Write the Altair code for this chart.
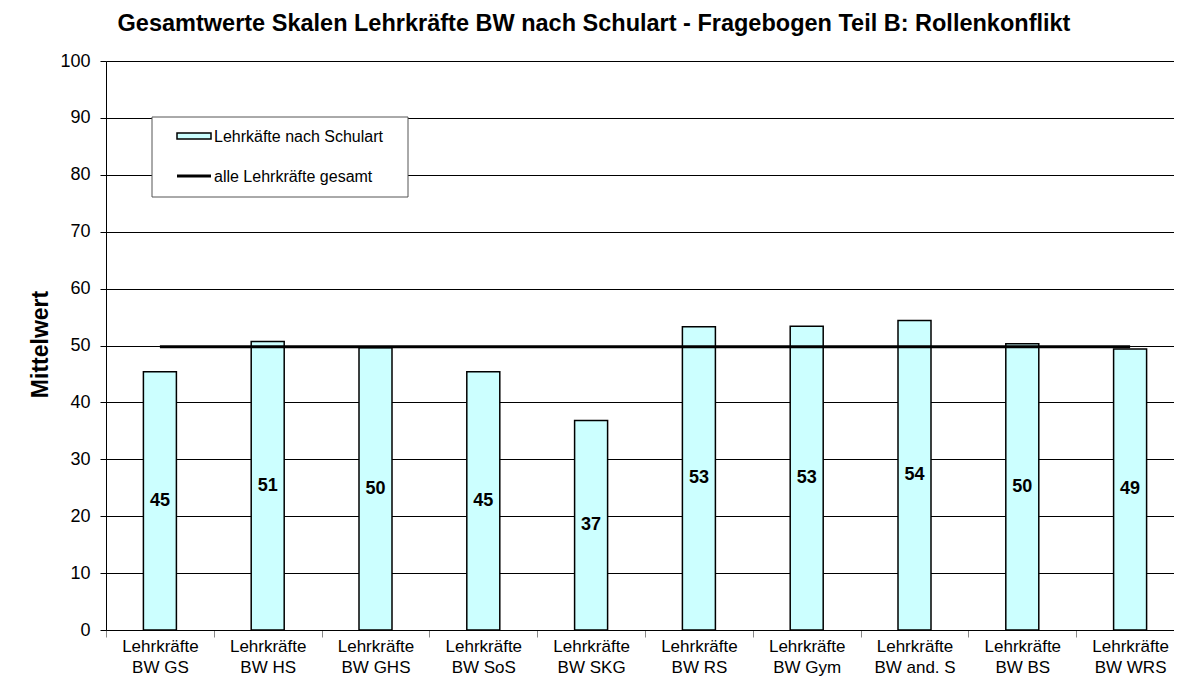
import altair as alt
import pandas as pd

categories = [
    "Lehrkräfte\nBW GS", "Lehrkräfte\nBW HS", "Lehrkräfte\nBW GHS",
    "Lehrkräfte\nBW SoS", "Lehrkräfte\nBW SKG", "Lehrkräfte\nBW RS",
    "Lehrkräfte\nBW Gym", "Lehrkräfte\nBW and. S", "Lehrkräfte\nBW BS",
    "Lehrkräfte\nBW WRS",
]
values = [45.4, 50.7, 49.6, 45.4, 36.8, 53.3, 53.4, 54.4, 50.3, 49.4]
overall_value = 49.8

title_text = "Gesamtwerte Skalen Lehrkräfte BW nach Schulart - Fragebogen Teil B: Rollenkonflikt"
y_title = "Mittelwert"
legend_bar = "Lehrkäfte nach Schulart"
legend_line = "alle Lehrkräfte gesamt"

FONT = "Liberation Sans"

df = pd.DataFrame({"cat": categories, "val": values, "overall": [overall_value] * len(categories)})

x_enc = alt.X(
    "cat:N", sort=None, title=None,
    scale=alt.Scale(paddingInner=0, paddingOuter=0),
    axis=alt.Axis(
        labelExpr="split(datum.label, '\\n')", labelAngle=0,
        labelFontSize=17, labelFont=FONT, labelColor="black",
        labelLineHeight=21, labelPadding=1,
        tickBand="extent", tickColor="#888888", tickSize=7,
        domainColor="black", domainWidth=1, grid=False,
    ),
)
y_axis = alt.Axis(
    values=list(range(0, 101, 10)), labelFontSize=18, labelFont=FONT,
    labelColor="black", labelPadding=10, tickSize=6, tickColor="black",
    domainColor="black", gridColor="black", gridWidth=1, gridOpacity=1,
    title=y_title, titleFont=FONT, titleFontSize=23, titleFontWeight="bold",
    titleAngle=270, titleX=-66, titleY=283, titleAlign="center",
    titleBaseline="middle", titleColor="black",
)
y_scale = alt.Scale(domain=[0, 100], nice=False)

base = alt.Chart(df)

bars = base.mark_bar(fill="#CCFFFF", stroke="black", strokeWidth=1.5, size=33).encode(
    x=x_enc,
    y=alt.Y("val:Q", scale=y_scale, axis=y_axis),
)

line = base.mark_line(color="black", strokeWidth=3).encode(
    x=alt.X("cat:N", sort=None),
    y=alt.Y("overall:Q"),
)

labels = base.transform_calculate(half="datum.val / 2").mark_text(
    font=FONT, fontSize=18, fontWeight="bold", color="black",
    align="center", baseline="middle",
).encode(
    x=alt.X("cat:N", sort=None),
    y=alt.Y("half:Q"),
    text=alt.Text("val:Q", format=".0f"),
)

one = pd.DataFrame({"k": [0]})
leg_box = alt.Chart(one).mark_rect(fill="white", stroke="#555555", strokeWidth=1).encode(
    x=alt.value(46), x2=alt.value(302), y=alt.value(56), y2=alt.value(136)
)
leg_swatch = alt.Chart(one).mark_rect(fill="#CCFFFF", stroke="black", strokeWidth=1.5).encode(
    x=alt.value(71), x2=alt.value(105), y=alt.value(72), y2=alt.value(78)
)
leg_text1 = alt.Chart(one).mark_text(
    text=legend_bar, font=FONT, fontSize=16, align="left", baseline="middle", color="black"
).encode(x=alt.value(108), y=alt.value(76))
leg_line = alt.Chart(one).mark_rule(color="black", strokeWidth=3).encode(
    x=alt.value(71), x2=alt.value(105), y=alt.value(115)
)
leg_text2 = alt.Chart(one).mark_text(
    text=legend_line, font=FONT, fontSize=16, align="left", baseline="middle", color="black"
).encode(x=alt.value(108), y=alt.value(116))

chart = alt.layer(
    bars, line, labels, leg_box, leg_swatch, leg_text1, leg_line, leg_text2
).properties(
    width=1078, height=569,
    autosize=alt.AutoSizeParams(type="none"),
    padding={"left": 98, "top": 53, "right": -10, "bottom": 55},
    title=alt.TitleParams(
        text=title_text, font=FONT, fontSize=23.5, fontWeight="bold", color="black",
        anchor="middle", dx=-51, offset=17,
    ),
).configure_view(strokeWidth=0).configure(background="white")

chart.save("out.html", embed_options={"renderer": "svg", "actions": False})
